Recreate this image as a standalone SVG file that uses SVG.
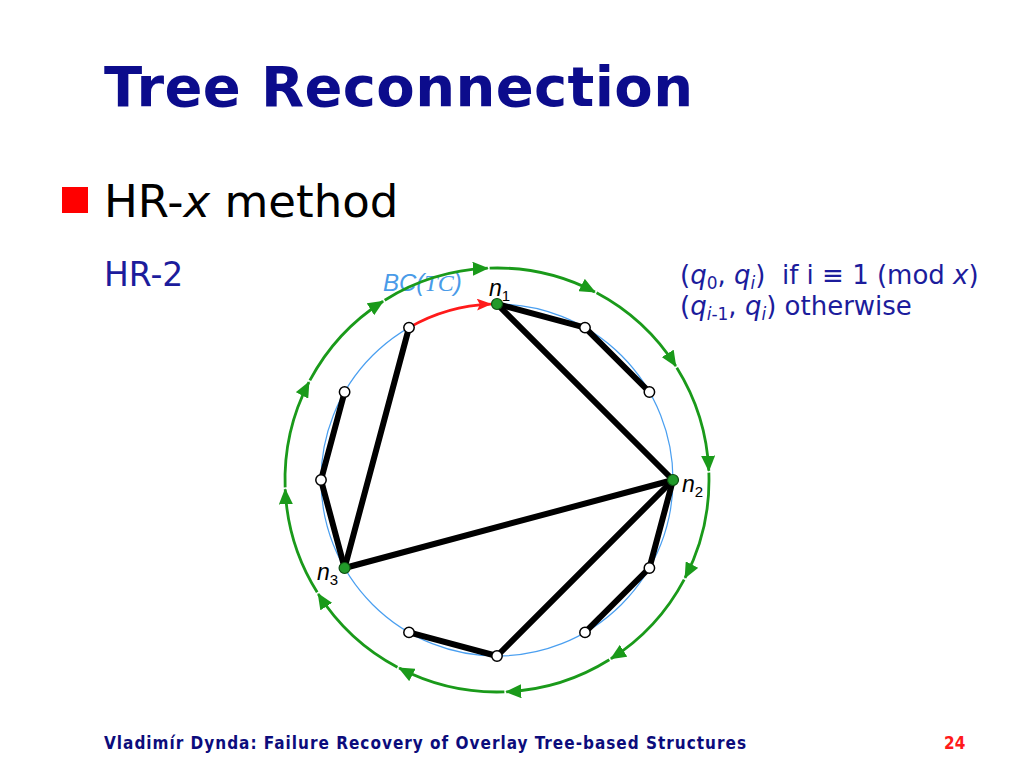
<svg xmlns="http://www.w3.org/2000/svg" width="1024" height="768" viewBox="0 0 1024 768">
<defs>
<style>
.title{font-family:"DejaVu Sans","Liberation Sans",sans-serif;font-weight:bold;font-size:56px;fill:#0c0c8c}
.body{font-family:"DejaVu Sans","Liberation Sans",sans-serif;fill:#000}
.navy{font-family:"DejaVu Sans","Liberation Sans",sans-serif;fill:#1c1c9c}
.foot{font-family:"DejaVu Sans Condensed","DejaVu Sans","Liberation Sans",sans-serif;font-weight:bold;font-size:17px;fill:#0c0c7c}
.lbl{font-family:"Liberation Sans",Arial,sans-serif;font-size:23px;fill:#000}
.bc{font-family:"Liberation Sans",Arial,sans-serif;font-size:24px;font-style:italic;fill:#4a9be8}
.edge{stroke:#000;stroke-width:6;stroke-linecap:round;fill:none}
.ring{stroke:#1a9a1a;stroke-width:2.8;fill:none;marker-end:url(#ag)}
.pn{fill:#fff;stroke:#000;stroke-width:1.5}
.gn{fill:#22992a;stroke:#0c4d10;stroke-width:1.2}
</style>
<marker id="ag" markerUnits="userSpaceOnUse" markerWidth="16" markerHeight="14" viewBox="0 0 16 14" refX="15" refY="7" orient="auto">
<path d="M0,0 L16,7 L0,14 Z" fill="#1a9a1a"/>
</marker>
<marker id="ar" markerUnits="userSpaceOnUse" markerWidth="15" markerHeight="12" viewBox="0 0 15 12" refX="14" refY="6" orient="auto">
<path d="M0,0 L15,6 L0,12 L3,6 Z" fill="#ff1a1a"/>
</marker>
</defs>
<rect width="1024" height="768" fill="#fff"/>

<text class="title" x="104" y="106" textLength="589" lengthAdjust="spacing">Tree Reconnection</text>
<rect x="62" y="187" width="26" height="26" fill="#ff0000"/>
<text class="body" x="104" y="217" font-size="45">HR-<tspan font-style="italic">x</tspan> method</text>
<text class="navy" x="104" y="286" font-size="33">HR-2</text>

<text class="navy" x="680" y="284" font-size="26" xml:space="preserve">(<tspan font-style="italic">q</tspan><tspan font-size="17" dy="5">0</tspan><tspan dy="-5">, </tspan><tspan font-style="italic">q</tspan><tspan font-size="17" font-style="italic" dy="5">i</tspan><tspan dy="-5">)  if i ≡ 1 (mod </tspan><tspan font-style="italic">x</tspan>)</text>
<text class="navy" x="680" y="315" font-size="26">(<tspan font-style="italic">q</tspan><tspan font-size="17" font-style="italic" dy="5">i</tspan><tspan font-size="17" dy="0">-1</tspan><tspan dy="-5">, </tspan><tspan font-style="italic">q</tspan><tspan font-size="17" font-style="italic" dy="5">i</tspan><tspan dy="-5">) otherwise</tspan></text>

<text class="bc" x="383" y="291">BC(<tspan font-family="'Liberation Serif',serif">TC</tspan>)</text>

<circle cx="497" cy="480" r="176" fill="none" stroke="#4a9ff0" stroke-width="1.2"/>

<g id="connectors">
<path d="M409,327.6 A176,176 0 0 1 490.9,304.1" stroke="#ff1a1a" stroke-width="2.8" fill="none" marker-end="url(#ar)"/>
<line class="edge" x1="497" y1="304" x2="585" y2="327.6"/>
<line class="edge" x1="585" y1="327.6" x2="649.4" y2="392"/>
<line class="edge" x1="497" y1="304" x2="673" y2="480"/>
<line class="edge" x1="673" y1="480" x2="649.4" y2="568"/>
<line class="edge" x1="649.4" y1="568" x2="585" y2="632.4"/>
<line class="edge" x1="673" y1="480" x2="497" y2="656"/>
<line class="edge" x1="497" y1="656" x2="409" y2="632.4"/>
<line class="edge" x1="673" y1="480" x2="344.6" y2="568"/>
<line class="edge" x1="344.6" y1="568" x2="321" y2="480"/>
<line class="edge" x1="321" y1="480" x2="344.6" y2="392"/>
<line class="edge" x1="344.6" y1="568" x2="409" y2="327.6"/>
<g id="ring">
<path class="ring" d="M676.8,367.7 A212,212 0 0 1 708.8,470.75"/>
<path class="ring" d="M676.8,367.7 A212,212 0 0 1 708.8,470.75" transform="rotate(30 497 480)"/>
<path class="ring" d="M676.8,367.7 A212,212 0 0 1 708.8,470.75" transform="rotate(60 497 480)"/>
<path class="ring" d="M676.8,367.7 A212,212 0 0 1 708.8,470.75" transform="rotate(90 497 480)"/>
<path class="ring" d="M676.8,367.7 A212,212 0 0 1 708.8,470.75" transform="rotate(120 497 480)"/>
<path class="ring" d="M676.8,367.7 A212,212 0 0 1 708.8,470.75" transform="rotate(150 497 480)"/>
<path class="ring" d="M676.8,367.7 A212,212 0 0 1 708.8,470.75" transform="rotate(180 497 480)"/>
<path class="ring" d="M676.8,367.7 A212,212 0 0 1 708.8,470.75" transform="rotate(210 497 480)"/>
<path class="ring" d="M676.8,367.7 A212,212 0 0 1 708.8,470.75" transform="rotate(240 497 480)"/>
<path class="ring" d="M676.8,367.7 A212,212 0 0 1 708.8,470.75" transform="rotate(270 497 480)"/>
<path class="ring" d="M676.8,367.7 A212,212 0 0 1 708.8,470.75" transform="rotate(300 497 480)"/>
<path class="ring" d="M676.8,367.7 A212,212 0 0 1 708.8,470.75" transform="rotate(330 497 480)"/>
</g>
</g>

<g id="n1"><circle class="gn" cx="497" cy="304" r="5.5"/><text class="lbl" x="489" y="296" font-style="italic">n<tspan font-style="normal" font-size="15" dy="5">1</tspan></text></g>
<g id="n2"><circle class="gn" cx="673" cy="480" r="5.5"/><text class="lbl" x="682" y="492" font-style="italic">n<tspan font-style="normal" font-size="15" dy="5">2</tspan></text></g>
<g id="n3"><circle class="gn" cx="344.6" cy="568" r="5.5"/><text class="lbl" x="317" y="580" font-style="italic">n<tspan font-style="normal" font-size="15" dy="5">3</tspan></text></g>
<g id="p1"><circle class="pn" cx="585" cy="327.6" r="5.2"/></g>
<g id="p2"><circle class="pn" cx="649.4" cy="392" r="5.2"/></g>
<g id="p3"><circle class="pn" cx="649.4" cy="568" r="5.2"/></g>
<g id="p4"><circle class="pn" cx="585" cy="632.4" r="5.2"/></g>
<g id="p5"><circle class="pn" cx="497" cy="656" r="5.2"/></g>
<g id="p6"><circle class="pn" cx="409" cy="632.4" r="5.2"/></g>
<g id="p7"><circle class="pn" cx="321" cy="480" r="5.2"/></g>
<g id="p8"><circle class="pn" cx="344.6" cy="392" r="5.2"/></g>
<g id="p9"><circle class="pn" cx="409" cy="327.6" r="5.2"/></g>

<text class="foot" x="104" y="749" textLength="642" lengthAdjust="spacing">Vladimír Dynda: Failure Recovery of Overlay Tree-based Structures</text>
<text class="foot" x="944" y="749" style="fill:#ff1a1a">24</text>
</svg>
